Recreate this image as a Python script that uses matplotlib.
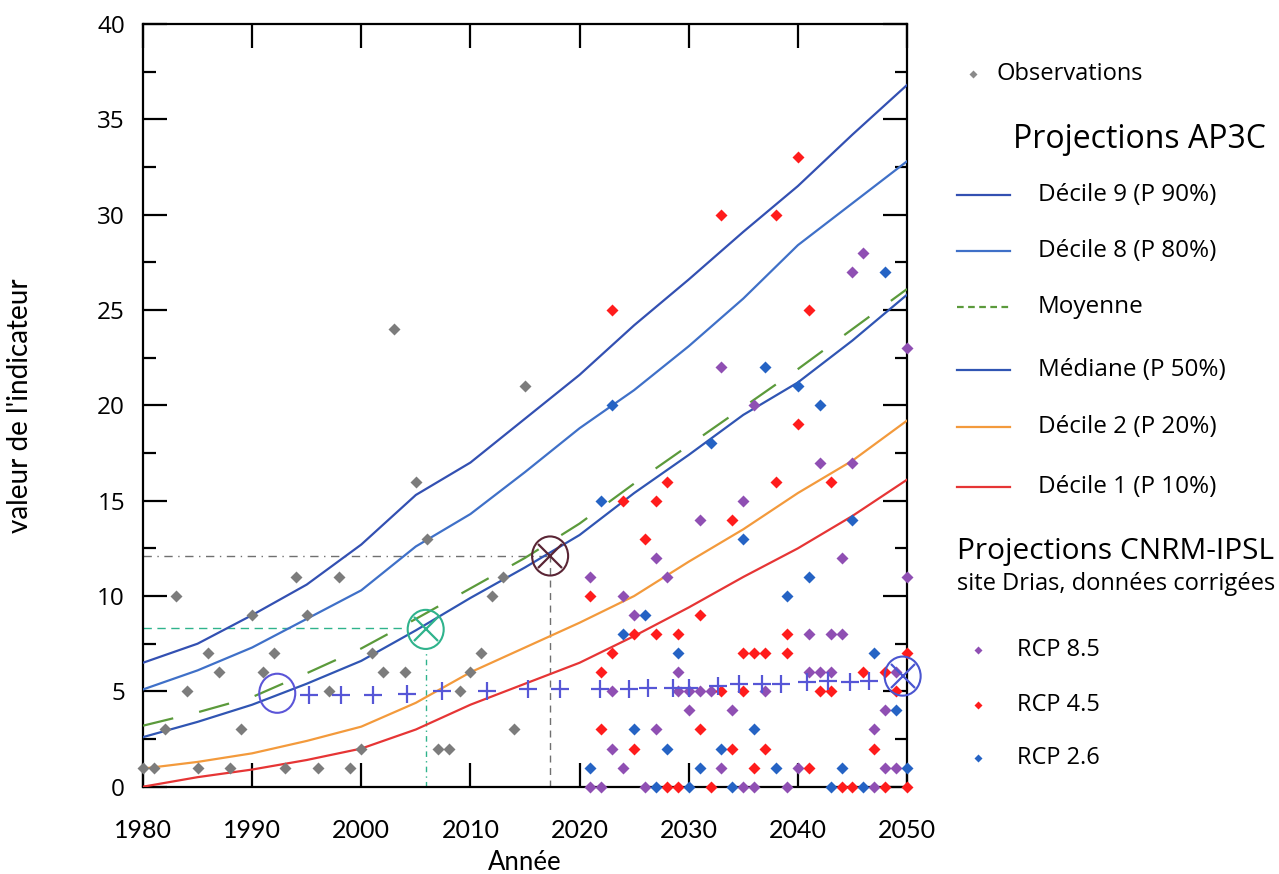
import matplotlib
matplotlib.use('Agg')
import matplotlib.pyplot as plt
from matplotlib.patches import Ellipse
from matplotlib.lines import Line2D
from matplotlib.ticker import MultipleLocator

# ---------------- data ----------------
line_years = [1980, 1985, 1990, 1995, 2000, 2005, 2010, 2015, 2020, 2025, 2030, 2035, 2040, 2045, 2050]
decile9 = [6.5, 7.5, 9.0, 10.6, 12.7, 15.3, 17.0, 19.3, 21.6, 24.2, 26.6, 29.1, 31.5, 34.2, 36.8]
decile8 = [5.1, 6.1, 7.3, 8.8, 10.3, 12.6, 14.3, 16.5, 18.8, 20.8, 23.1, 25.6, 28.4, 30.6, 32.8]
moyenne = [3.2, 3.9, 4.7, 5.95, 7.25, 8.8, 10.4, 12.0, 13.8, 15.9, 17.9, 19.9, 21.9, 24.0, 26.1]
mediane = [2.6, 3.4, 4.3, 5.4, 6.6, 8.2, 9.9, 11.5, 13.2, 15.4, 17.4, 19.5, 21.2, 23.4, 25.8]
decile2 = [0.95, 1.3, 1.75, 2.4, 3.15, 4.4, 6.0, 7.3, 8.6, 10.0, 11.8, 13.5, 15.4, 17.1, 19.2]
decile1 = [0.0, 0.5, 0.9, 1.4, 2.0, 3.0, 4.3, 5.4, 6.5, 7.9, 9.4, 11.0, 12.5, 14.2, 16.1]

obs_years = list(range(1980, 2016))
obs_values = [1, 1, 3, 10, 5, 1, 7, 6, 1, 3, 9, 6, 7, 1, 11, 9, 1, 5, 11, 1,
              2, 7, 6, 24, 6, 16, 13, 2, 2, 5, 6, 7, 10, 11, 3, 21]

rcp85_years = [2021, 2021, 2022, 2023, 2023, 2024, 2024, 2025, 2026, 2027, 2027, 2028,
               2029, 2029, 2030, 2030, 2031, 2031, 2032, 2033, 2033, 2034, 2035, 2035,
               2036, 2036, 2037, 2039, 2040, 2041, 2041, 2042, 2042, 2043, 2043, 2044,
               2044, 2045, 2045, 2046, 2047, 2047, 2048, 2048, 2049, 2049, 2050, 2050]
rcp85_values = [11, 0, 0, 5, 2, 10, 1, 9, 0, 12, 3, 11,
                6, 5, 4, 5, 14, 5, 5, 22, 1, 4, 15, 0,
                20, 0, 5, 0, 1, 8, 6, 17, 6, 8, 6, 12,
                8, 27, 17, 28, 3, 0, 4, 1, 6, 1, 23, 11]

rcp45_years = [2021, 2022, 2022, 2023, 2023, 2024, 2025, 2025, 2026, 2027, 2027, 2028,
               2028, 2029, 2029, 2031, 2031, 2032, 2033, 2033, 2034, 2034, 2035, 2035,
               2036, 2036, 2037, 2037, 2038, 2038, 2039, 2039, 2040, 2040, 2041, 2041,
               2042, 2043, 2043, 2044, 2045, 2046, 2047, 2048, 2048, 2049, 2050, 2050]
rcp45_values = [10, 6, 3, 25, 7, 15, 8, 2, 13, 15, 8, 16,
                0, 8, 0, 9, 3, 0, 30, 5, 14, 2, 7, 5,
                7, 1, 7, 2, 30, 16, 8, 7, 33, 19, 25, 1,
                5, 16, 5, 0, 0, 6, 2, 6, 0, 5, 7, 0]

rcp26_years = list(range(2021, 2051))
rcp26_values = [1, 15, 20, 8, 3, 9, 0, 2, 7, 0, 1, 18, 2, 0, 13,
                3, 22, 1, 10, 21, 11, 20, 0, 1, 14, 0, 7, 27, 4, 1]

# hand-drawn annotations on the scan
plus_years = [1995.2, 1998.1, 2001.1, 2004.2, 2007.4, 2011.5, 2015.3, 2018.2, 2021.9, 2024.5,
              2026.3, 2028.6, 2030.0, 2032.7, 2034.6, 2036.7, 2038.5, 2040.8, 2042.8, 2044.8, 2046.5]
plus_values = [4.8, 4.8, 4.8, 4.85, 5.0, 5.0, 5.1, 5.1, 5.15, 5.15,
               5.2, 5.2, 5.2, 5.3, 5.4, 5.4, 5.4, 5.5, 5.55, 5.5, 5.55]
circle_years = [1992.3, 2005.9, 2017.3, 2049.6]
circle_values = [4.9, 8.25, 12.1, 5.8]
circle_colors = ['#5b55d8', '#2fb38c', '#5a2535', '#4a55d0']
circle_crossed = [False, True, True, True]
ref_green = (2005.9, 8.3)
ref_gray = (2017.3, 12.1)

# ---------------- figure ----------------
W, H = 1279, 874
fig = plt.figure(figsize=(W / 100, H / 100), dpi=100)
ax = fig.add_axes([143 / W, 1 - 786.7 / H, (907 - 143) / W, (786.7 - 24) / H])

ax.set_xlim(1980, 2050)
ax.set_ylim(0, 40)

# reference dashed lines (annotations)
ax.plot([1980, ref_gray[0]], [ref_gray[1], ref_gray[1]], color='#707070', lw=1.0,
        ls=(0, (6, 4, 1, 4)), zorder=2)
ax.plot([ref_gray[0], ref_gray[0]], [0, ref_gray[1]], color='#707070', lw=1.0,
        ls=(0, (5, 4)), zorder=2)
ax.plot([1980, ref_green[0] - 2.2], [ref_green[1], ref_green[1]], color='#2fb38c', lw=1.0,
        ls=(0, (6, 4)), zorder=2)
ax.plot([ref_green[0], ref_green[0]], [0, ref_green[1] - 1.0], color='#2fb38c', lw=1.0,
        ls=(0, (4, 3, 1, 3)), zorder=2)

lw = 1.6
ax.plot(line_years, decile9, color='#3350b2', lw=lw, zorder=3)
ax.plot(line_years, decile8, color='#3f70c8', lw=lw, zorder=3)
ax.plot(line_years, moyenne, color='#5b9a3b', lw=lw, ls=(0, (14, 12)), zorder=3)
ax.plot(line_years, mediane, color='#3055b3', lw=lw, zorder=3)
ax.plot(line_years, decile2, color='#f39a3c', lw=lw, zorder=3)
ax.plot(line_years, decile1, color='#e63535', lw=lw, zorder=3)

ms = 6
ax.plot(obs_years, obs_values, ls='none', marker='D', ms=ms, color='#7c7c7c', mec='none',
        zorder=4, clip_on=False)
ax.plot(rcp85_years, rcp85_values, ls='none', marker='D', ms=ms, color='#8f4fb3', mec='none',
        zorder=4, clip_on=False)
ax.plot(rcp45_years, rcp45_values, ls='none', marker='D', ms=ms, color='#ff1c1c', mec='none',
        zorder=4, clip_on=False)
ax.plot(rcp26_years, rcp26_values, ls='none', marker='D', ms=ms, color='#2563c4', mec='none',
        zorder=4, clip_on=False)

# hand-drawn marks
ax.plot(plus_years, plus_values, ls='none', marker='+', ms=13, mew=1.6, color='#5656d6', zorder=5)
for cx, cy, cc, crossed in zip(circle_years, circle_values, circle_colors, circle_crossed):
    ax.add_patch(Ellipse((cx, cy), width=3.3, height=2.05, fill=False, ec=cc, lw=1.5,
                         zorder=6, clip_on=False))
    if crossed:
        ax.plot([cx], [cy], marker='x', ms=17, mew=1.6, color=cc, zorder=6, clip_on=False)

# axes styling
for s in ax.spines.values():
    s.set_linewidth(1.6)
    s.set_color('black')
ax.xaxis.set_major_locator(MultipleLocator(10))
ax.yaxis.set_major_locator(MultipleLocator(5))
ax.yaxis.set_minor_locator(MultipleLocator(2.5))
ax.tick_params(which='major', direction='in', length=17, width=1.6, top=True, right=True)
ax.tick_params(which='minor', direction='in', length=9, width=1.6, top=False, right=True,
               left=True)
ax.tick_params(axis='x', pad=23, labelsize=18)
ax.tick_params(axis='y', pad=13, labelsize=17.5)
for lab in ax.get_xticklabels():
    lab.set_fontfamily('Lato')
for lab in ax.get_yticklabels():
    lab.set_fontfamily('Open Sans')
ax.set_xlabel('Année', fontsize=18.5, family='Lato', labelpad=6)
ax.set_ylabel("valeur de l'indicateur", fontsize=20, family='Lato', labelpad=46)

# ---------------- manual legend ----------------
def fx(px):
    return px / W

def fy(py):
    return 1 - py / H

leg_font = 'Open Sans'

def leg_marker(px, py, color):
    fig.add_artist(Line2D([fx(px)], [fy(py)], transform=fig.transFigure, ls='none',
                          marker='D', ms=4.5, color=color, mec='none'))

def leg_line(py, color, ls='-'):
    fig.add_artist(Line2D([fx(957), fx(1010)], [fy(py), fy(py)], transform=fig.transFigure,
                          color=color, lw=1.6, ls=ls))

leg_marker(973, 74, '#8a8a8a')
fig.text(fx(996), fy(74), 'Observations', fontsize=17, family=leg_font, va='center', ha='left')
fig.text(fx(1013), fy(139), 'Projections AP3C', fontsize=23, family=leg_font, va='center', ha='left')

line_entries = [
    (195, '#3350b2', '-', 'Décile 9 (P 90%)'),
    (251, '#3f70c8', '-', 'Décile 8 (P 80%)'),
    (307, '#5b9a3b', (0, (3, 2)), 'Moyenne'),
    (370, '#3055b3', '-', 'Médiane (P 50%)'),
    (427, '#f39a3c', '-', 'Décile 2 (P 20%)'),
    (487, '#e63535', '-', 'Décile 1 (P 10%)'),
]
for py, col, ls, txt in line_entries:
    leg_line(py, col, ls)
    fig.text(fx(1038), fy(py), txt, fontsize=17.5, family=leg_font, va='center', ha='left')

fig.text(fx(957), fy(552), 'Projections CNRM-IPSL', fontsize=21.5, family=leg_font,
         va='center', ha='left')
fig.text(fx(957), fy(584), 'site Drias, données corrigées', fontsize=17, family=leg_font,
         va='center', ha='left')

rcp_entries = [
    (650, '#8f4fb3', 'RCP 8.5'),
    (705, '#ff1c1c', 'RCP 4.5'),
    (758, '#2563c4', 'RCP 2.6'),
]
for py, col, txt in rcp_entries:
    leg_marker(978, py, col)
    fig.text(fx(1017), fy(py), txt, fontsize=17, family=leg_font, va='center', ha='left')

fig.savefig('out.png', dpi=100)
